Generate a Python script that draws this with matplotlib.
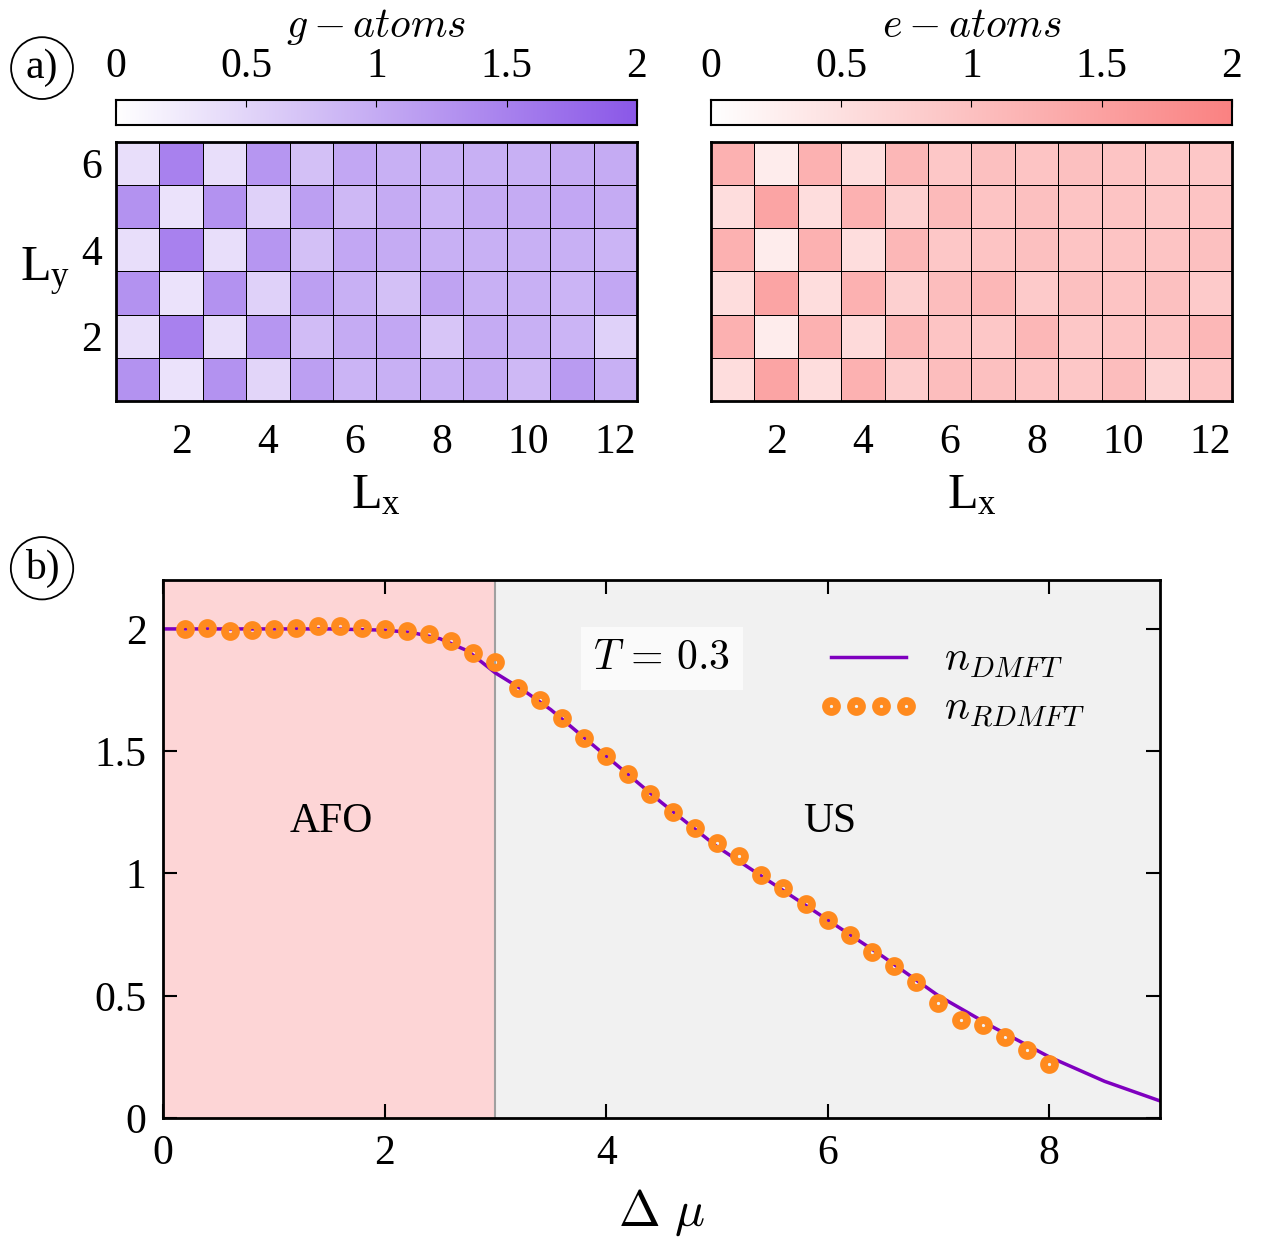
import numpy as np
import matplotlib
matplotlib.use("Agg")
import matplotlib.pyplot as plt
from matplotlib.colors import LinearSegmentedColormap

plt.rcParams['font.family'] = ['Liberation Serif', 'DejaVu Serif']
plt.rcParams['mathtext.fontset'] = 'cm'

# densities on the 12 x 6 lattice, rows listed from Ly=6 (top) down to Ly=1
g_atoms = [
    [0.40, 1.50, 0.40, 1.25, 0.75, 1.05, 0.95, 0.95, 0.95, 0.95, 1.00, 1.00],
    [1.30, 0.35, 1.30, 0.55, 1.15, 0.85, 1.00, 0.90, 1.00, 1.00, 1.05, 1.00],
    [0.40, 1.50, 0.40, 1.25, 0.75, 1.05, 1.00, 0.95, 0.95, 0.95, 0.95, 0.90],
    [1.30, 0.35, 1.30, 0.55, 1.15, 0.95, 0.75, 1.10, 0.95, 0.95, 0.90, 1.05],
    [0.40, 1.50, 0.40, 1.25, 0.80, 1.00, 1.05, 0.70, 1.00, 0.95, 0.90, 0.55],
    [1.30, 0.35, 1.30, 0.50, 1.15, 0.90, 0.95, 0.95, 1.00, 0.85, 1.20, 0.95],
]
e_atoms = [
    [1.25, 0.30, 1.25, 0.55, 1.15, 0.90, 1.00, 0.95, 1.00, 0.95, 0.90, 0.90],
    [0.55, 1.45, 0.55, 1.25, 0.75, 1.10, 0.95, 1.00, 0.95, 0.95, 0.90, 0.95],
    [1.25, 0.30, 1.25, 0.55, 1.15, 0.90, 0.95, 1.00, 0.95, 0.95, 0.95, 1.00],
    [0.55, 1.45, 0.55, 1.25, 0.75, 1.05, 1.15, 0.85, 1.00, 0.95, 1.00, 0.85],
    [1.25, 0.30, 1.25, 0.60, 1.15, 0.95, 0.90, 1.15, 0.90, 0.95, 0.95, 1.15],
    [0.55, 1.45, 0.55, 1.25, 0.80, 1.05, 1.00, 0.95, 0.90, 1.05, 0.70, 0.95],
]

# panel b
mu_dmft = [0, 0.5, 1, 1.5, 2, 2.25, 2.5, 2.75, 3, 3.25, 3.5, 4, 4.5, 5, 5.5, 6, 6.5, 7, 7.5, 8, 8.5, 9]
n_dmft = [2.0, 2.0, 2.0, 2.0, 1.995, 1.985, 1.96, 1.91, 1.82, 1.75, 1.67, 1.48, 1.29, 1.11,
          0.96, 0.81, 0.66, 0.50, 0.37, 0.25, 0.15, 0.07]
mu_rdmft = [0.2, 0.4, 0.6, 0.8, 1.0, 1.2, 1.4, 1.6, 1.8, 2.0, 2.2, 2.4, 2.6, 2.8, 3.0,
            3.2, 3.4, 3.6, 3.8, 4.0, 4.2, 4.4, 4.6, 4.8, 5.0, 5.2, 5.4, 5.6, 5.8, 6.0,
            6.2, 6.4, 6.6, 6.8, 7.0, 7.2, 7.4, 7.6, 7.8, 8.0]
n_rdmft = [2.0, 2.005, 1.99, 1.995, 2.0, 2.005, 2.01, 2.01, 2.005, 2.0, 1.99, 1.98, 1.95,
           1.90, 1.865, 1.76, 1.71, 1.635, 1.555, 1.48, 1.405, 1.325, 1.25, 1.185, 1.125,
           1.07, 0.995, 0.94, 0.875, 0.81, 0.75, 0.68, 0.62, 0.555, 0.47, 0.40, 0.38,
           0.33, 0.28, 0.22]

cmap_g = LinearSegmentedColormap.from_list('g', ['#ffffff', '#8b58e8'])
cmap_e = LinearSegmentedColormap.from_list('e', ['#ffffff', '#fa8282'])

fig = plt.figure(figsize=(12.62, 12.38), dpi=100)

tfs = 30
lfs = 36

def heat(left, data, cmap, title, ylab):
    ax = fig.add_axes([left, 0.6761, 0.4128, 0.2092])
    arr = np.array(data)[::-1]
    xs = np.arange(0.5, 13, 1)
    ys = np.arange(0.5, 7, 1)
    ax.pcolormesh(xs, ys, arr, cmap=cmap, vmin=0, vmax=2, edgecolors='k', linewidth=0.6)
    ax.set_xlim(0.5, 12.5)
    ax.set_ylim(0.5, 6.5)
    ax.set_xticks([2, 4, 6, 8, 10, 12])
    ax.set_yticks([2, 4, 6])
    ax.tick_params(direction='in', labelsize=tfs, length=0, pad=16)
    ax.tick_params(axis='y', pad=10)
    if not ylab:
        ax.set_yticklabels([])
    for s in ax.spines.values():
        s.set_linewidth(2)
    ax.set_xlabel(r'$\mathregular{L_x}$', fontsize=lfs, labelpad=8)
    if ylab:
        ax.set_ylabel(r'$\mathregular{L_y}$', fontsize=lfs, rotation=0, labelpad=26, va='center')

    cax = fig.add_axes([left, 0.899, 0.4128, 0.0202])
    grad = np.linspace(0, 2, 256).reshape(1, -1)
    cax.imshow(grad, cmap=cmap, aspect='auto', extent=[0, 2, 0, 1], vmin=0, vmax=2)
    cax.set_yticks([])
    cax.set_xticks([0, 0.5, 1, 1.5, 2])
    cax.set_xticklabels(['0', '0.5', '1', '1.5', '2'])
    cax.xaxis.tick_top()
    cax.tick_params(axis='x', direction='in', labelsize=tfs, length=5, pad=10)
    for s in cax.spines.values():
        s.set_linewidth(1.5)
    cax.set_title(title, fontsize=tfs, pad=8)
    return ax

heat(0.0919, g_atoms, cmap_g, r'$g - atoms$', True)
heat(0.5634, e_atoms, cmap_e, r'$e - atoms$', False)

ax = fig.add_axes([0.1292, 0.0969, 0.790, 0.4346])
ax.axvspan(0, 3, color='#fdd5d6', zorder=0)
ax.axvspan(3, 9, color='#f1f1f1', zorder=0)
ax.axvline(3, color='#a0a0a0', lw=1.5, zorder=1)
ax.plot(mu_dmft, n_dmft, color='#7f00bf', lw=2.5, label=r'$n_{DMFT}$', zorder=2)
ax.plot(mu_rdmft, n_rdmft, ls='none', marker='o', ms=8, mew=5.5, mfc='none',
        mec='#ff8a1e', label=r'$n_{RDMFT}$', zorder=3)
ax.set_xlim(0, 9)
ax.set_ylim(0, 2.2)
ax.set_xticks([0, 2, 4, 6, 8])
ax.set_yticks([0, 0.5, 1, 1.5, 2])
ax.set_yticklabels(['0', '0.5', '1', '1.5', '2'])
ax.tick_params(direction='in', labelsize=tfs, length=10, width=1.5, top=True, right=True, pad=12)
for s in ax.spines.values():
    s.set_linewidth(2)
ax.set_xlabel(r'$\Delta\ \mu$', fontsize=lfs, labelpad=10)
ax.text(1.52, 1.21, 'AFO', fontsize=tfs, ha='center', va='center')
ax.text(6.02, 1.21, 'US', fontsize=tfs, ha='center', va='center')
ax.text(4.5, 1.88, r'$T\,=\,0.3$', fontsize=tfs, ha='center', va='center',
        bbox=dict(boxstyle='square,pad=0.3', fc='#fafafa', ec='none'))
ax.legend(loc='upper left', bbox_to_anchor=(0.62, 0.955), frameon=False, fontsize=tfs,
          numpoints=4, handlelength=2.4, labelspacing=0.25, handletextpad=0.6)

fig.text(0.0333, 0.945, 'a)', fontsize=tfs, ha='center', va='center',
         bbox=dict(boxstyle='circle,pad=0.28', fc='white', ec='k', lw=1.3))
fig.text(0.0333, 0.541, 'b)', fontsize=tfs, ha='center', va='center',
         bbox=dict(boxstyle='circle,pad=0.28', fc='white', ec='k', lw=1.3))

fig.savefig('out.png', dpi=100)
